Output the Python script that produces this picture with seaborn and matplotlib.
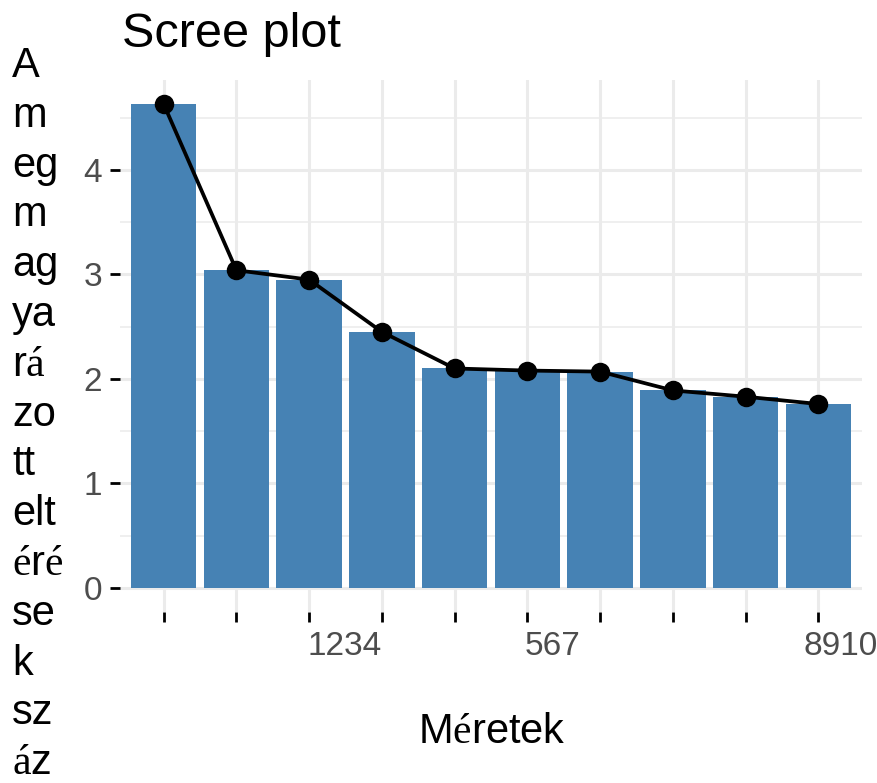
import matplotlib
matplotlib.use('Agg')
import matplotlib.pyplot as plt
import matplotlib.transforms as mtransforms
import seaborn as sns
import pandas as pd

# scree plot values
dims = ['1', '2', '3', '4', '5', '6', '7', '8', '9', '10']
eigen = [4.63, 3.04, 2.95, 2.45, 2.10, 2.08, 2.07, 1.89, 1.83, 1.76]

title = "Scree plot"
x_title = "M$\\mathrm{é}$retek"
# y label as it is wrapped in the reference
y_chunks = ["A", "m", "eg", "m", "ag", "ya", "r$\\mathrm{á}$", "zo", "tt", "elt",
            "$\\mathrm{é}$r$\\mathrm{é}$", "se", "k", "sz", "$\\mathrm{á}$z"]
x_tick_texts = ["1234", "567", "8910"]
x_tick_pos = [3.0, 5.34, 9.3]
x_tick_ha = ['right', 'center', 'center']

df = pd.DataFrame({'dim': dims, 'eig': eigen})

sns.set_theme(style='white')
plt.rcParams['font.family'] = ['Liberation Sans', 'DejaVu Sans']
plt.rcParams['mathtext.fontset'] = 'custom'
plt.rcParams['mathtext.rm'] = 'Liberation Serif'

W, H = 878, 783
fig = plt.figure(figsize=(W / 100, H / 100), dpi=100)
ax = fig.add_axes([120 / W, 1 - 612 / H, (862 - 120) / W, (612 - 80) / H])

sns.barplot(data=df, x='dim', y='eig', color='#4682B4', saturation=1,
            width=0.9, linewidth=0, ax=ax, zorder=2)
sns.pointplot(data=df, x='dim', y='eig', color='black', ax=ax,
              markersize=12, linewidth=2.7, zorder=3)

ax.set_xlim(-0.6, 9.6)
ax.set_ylim(-0.23, 4.86)
ax.set_yticks([0, 1, 2, 3, 4])
ax.set_yticks([0.5, 1.5, 2.5, 3.5, 4.5], minor=True)
ax.set_xticks(range(len(dims)))
ax.set_xticklabels([''] * len(dims))
ax.grid(True, which='major', color='#EBEBEB', lw=2.2, zorder=0)
ax.grid(True, which='minor', axis='y', color='#EBEBEB', lw=1.1, zorder=0)
ax.set_axisbelow(True)
for s in ax.spines.values():
    s.set_visible(False)

ax.tick_params(axis='both', which='major', length=7, width=2, color='black',
               direction='out', bottom=True, left=True)
ax.tick_params(axis='y', labelsize=24, labelcolor='#4D4D4D', pad=6)
ax.tick_params(axis='y', which='minor', length=0)
ax.set_xlabel('')
ax.set_ylabel('')

# x tick labels as they appear in the reference
trans = mtransforms.blended_transform_factory(ax.transData, fig.transFigure)
for t, p, ha in zip(x_tick_texts, x_tick_pos, x_tick_ha):
    ax.text(p, 1 - 655 / H, t, transform=trans, ha=ha, va='baseline',
            fontsize=24, color='#4D4D4D')

fig.text(122 / W, 1 - 47 / H, title, fontsize=35, color='black',
         ha='left', va='baseline')
fig.text(418 / W, 1 - 743 / H, x_title, fontsize=30, color='black',
         ha='left', va='baseline')
for i, c in enumerate(y_chunks):
    fig.text(12 / W, 1 - (77 + i * 49.8) / H, c, fontsize=30, color='black',
             ha='left', va='baseline')

fig.savefig('out.png', dpi=100)
